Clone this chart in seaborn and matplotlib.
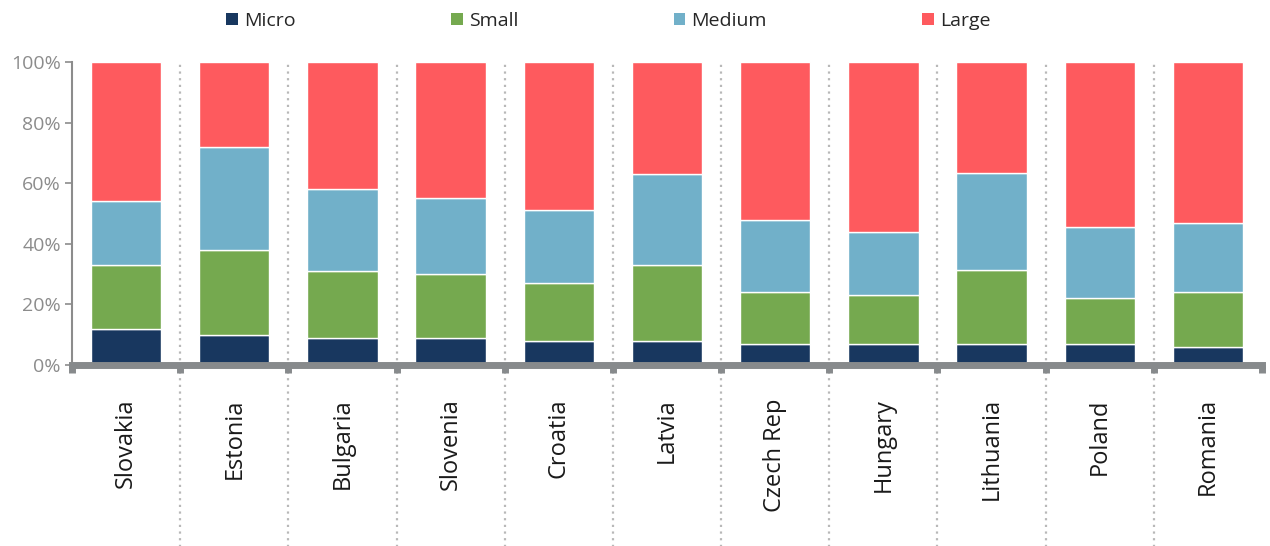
import matplotlib
matplotlib.use("Agg")
import matplotlib.pyplot as plt
import matplotlib.ticker as mtick
from matplotlib.patches import Patch
import numpy as np
import pandas as pd
import seaborn as sns

# data (shares of total, %)
countries = ["Slovakia", "Estonia", "Bulgaria", "Slovenia", "Croatia", "Latvia",
             "Czech Rep", "Hungary", "Lithuania", "Poland", "Romania"]
micro = [12, 10, 9, 9, 8, 8, 7, 7, 7, 7, 6]
small = [21, 28, 22, 21, 19, 25, 17, 16, 24.5, 15, 18]
medium = [21, 34, 27, 25, 24, 30, 24, 21, 32, 23.5, 23]
large = [46, 28, 42, 45, 49, 37, 52, 56, 36.5, 54.5, 53]

series = {"Micro": micro, "Small": small, "Medium": medium, "Large": large}
colors = {"Micro": "#18375f", "Small": "#75a94f", "Medium": "#71b0c9", "Large": "#fe5a5e"}

sns.set_style("white")
plt.rcParams["font.family"] = ["Open Sans", "DejaVu Sans"]

fig = plt.figure(figsize=(12.7, 5.46), dpi=100)
ax = fig.add_axes([0.0567, 0.3315, 0.937, 0.555])

bottom = np.zeros(len(countries))
for name, vals in series.items():
    vals = np.array(vals, dtype=float) / 100
    df = pd.DataFrame({"country": countries, "share": vals})
    sns.barplot(data=df, x="country", y="share", color=colors[name], bottom=bottom,
                width=0.65, edgecolor="white", linewidth=1, saturation=1, ax=ax)
    bottom = bottom + vals

ax.set_xlim(-0.5, len(countries) - 0.5)
ax.set_ylim(0, 1)
ax.set_xlabel("")
ax.set_ylabel("")
ax.yaxis.set_major_formatter(mtick.PercentFormatter(1.0, decimals=0))
ax.set_yticks(np.arange(0, 1.01, 0.2))

for s in ["top", "right"]:
    ax.spines[s].set_visible(False)
ax.spines["left"].set_color("#8c8c8c")
ax.spines["left"].set_linewidth(1.5)
ax.spines["bottom"].set_color("#878a8c")
ax.spines["bottom"].set_linewidth(5)

ax.tick_params(axis="y", direction="out", length=5, width=1.2, color="#8c8c8c",
               labelcolor="#8c8c8c", labelsize=14, left=True, pad=3)
ax.tick_params(axis="x", which="major", length=0, labelsize=17, labelcolor="#1a1a1a",
               labelrotation=90, pad=24)
ax.set_xticks(np.arange(-0.5, len(countries)), minor=True)
ax.tick_params(axis="x", which="minor", direction="out", length=6, width=5,
               color="#878a8c", bottom=True)

# dotted separators between countries
for xb in np.arange(0.5, len(countries) - 0.5):
    ax.axvline(xb, ymin=-0.6, ymax=1, color="#b8b8b8", linestyle=(0, (1, 2)),
               linewidth=1.6, clip_on=False, zorder=0)

handles = [Patch(facecolor=colors[n], edgecolor="none", label=n) for n in series]
fig.legend(handles=handles, loc="upper center", bbox_to_anchor=(0.479, 1.01), ncol=4,
           frameon=False, fontsize=14, handlelength=0.6, handleheight=0.6,
           handletextpad=0.3, columnspacing=8.0)

fig.savefig("out.png", dpi=100)
